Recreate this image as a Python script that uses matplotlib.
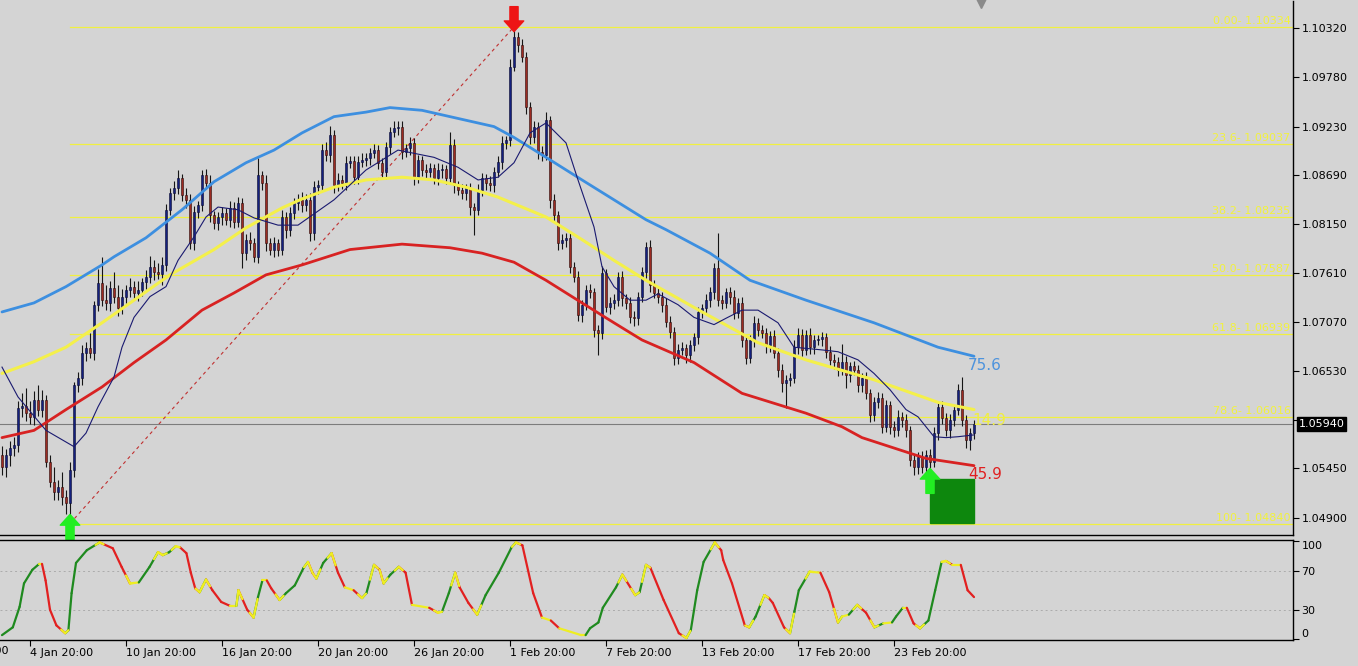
import numpy as np
import matplotlib
matplotlib.use("Agg")
import matplotlib.pyplot as plt
from matplotlib.patches import Rectangle
from matplotlib.transforms import blended_transform_factory

plt.rcParams['font.family'] = ['DejaVu Sans']

# ---- price data (EURUSD, one bar per 4 px) ----
first_open = 1.0560
closes = [
    1.0546, 1.0560, 1.0568, 1.0571, 1.0612, 1.0614, 1.0606, 1.0602, 1.0621, 1.0610,
    1.0621, 1.0552, 1.0530, 1.0519, 1.0524, 1.0513, 1.0507, 1.0543, 1.0637, 1.0645,
    1.0673, 1.0678, 1.0673, 1.0726, 1.0750, 1.0731, 1.0728, 1.0745, 1.0735, 1.0722,
    1.0735, 1.0742, 1.0746, 1.0739, 1.0742, 1.0751, 1.0757, 1.0768, 1.0762, 1.0760,
    1.0770, 1.0831, 1.0850, 1.0855, 1.0866, 1.0847, 1.0842, 1.0794, 1.0829, 1.0836,
    1.0869, 1.0861, 1.0825, 1.0816, 1.0823, 1.0827, 1.0820, 1.0833, 1.0818, 1.0839,
    1.0783, 1.0798, 1.0794, 1.0779, 1.0869, 1.0861, 1.0794, 1.0787, 1.0794, 1.0787,
    1.0823, 1.0809, 1.0827, 1.0839, 1.0842, 1.0836, 1.0842, 1.0805, 1.0856, 1.0858,
    1.0897, 1.0892, 1.0914, 1.0858, 1.0864, 1.0861, 1.0883, 1.0885, 1.0867, 1.0884,
    1.0886, 1.0888, 1.0894, 1.0897, 1.0883, 1.0873, 1.0900, 1.0917, 1.0921, 1.0923,
    1.0895, 1.0899, 1.0905, 1.0867, 1.0886, 1.0875, 1.0873, 1.0877, 1.0866, 1.0875,
    1.0876, 1.0866, 1.0903, 1.0858, 1.0853, 1.0850, 1.0855, 1.0834, 1.0831, 1.0853,
    1.0866, 1.0861, 1.0858, 1.0873, 1.0884, 1.0905, 1.0908, 1.0989, 1.1022, 1.1013,
    1.1000, 1.0945, 1.0911, 1.0923, 1.0895, 1.0892, 1.0930, 1.0842, 1.0825, 1.0794,
    1.0798, 1.0800, 1.0768, 1.0757, 1.0715, 1.0726, 1.0742, 1.0740, 1.0698, 1.0695,
    1.0761, 1.0724, 1.0728, 1.0731, 1.0757, 1.0733, 1.0728, 1.0712, 1.0711, 1.0735,
    1.0762, 1.0790, 1.0748, 1.0739, 1.0735, 1.0726, 1.0707, 1.0696, 1.0667, 1.0676,
    1.0678, 1.0670, 1.0681, 1.0690, 1.0718, 1.0722, 1.0731, 1.0740, 1.0767, 1.0731,
    1.0728, 1.0740, 1.0735, 1.0717, 1.0728, 1.0687, 1.0667, 1.0687, 1.0706, 1.0698,
    1.0695, 1.0681, 1.0691, 1.0673, 1.0654, 1.0639, 1.0643, 1.0645, 1.0679, 1.0693,
    1.0676, 1.0693, 1.0679, 1.0687, 1.0688, 1.0690, 1.0674, 1.0665, 1.0663, 1.0654,
    1.0663, 1.0648, 1.0658, 1.0654, 1.0637, 1.0645, 1.0628, 1.0604, 1.0618, 1.0623,
    1.0591, 1.0615, 1.0591, 1.0587, 1.0602, 1.0599, 1.0587, 1.0554, 1.0546, 1.0558,
    1.0546, 1.0560, 1.0552, 1.0584, 1.0613, 1.0601, 1.0587, 1.0599, 1.0610, 1.0632,
    1.0599, 1.0576, 1.0584, 1.0594,
]
# wick sizes in pips above / below the body
wick_up = [
    10, 6, 7, 9, 8, 14, 20, 13, 10, 16, 11, 5, 8, 17, 8, 17, 8, 9, 3, 7,
    8, 7, 17, 4, 15, 29, 17, 7, 17, 13, 8, 6, 9, 6, 10, 5, 7, 12, 8, 10,
    9, 6, 5, 8, 9, 5, 8, 6, 6, 5, 6, 7, 9, 5, 6, 7, 6, 8, 7, 6,
    5, 6, 8, 6, 19, 5, 9, 6, 7, 5, 8, 6, 7, 5, 6, 9, 6, 8, 7, 6,
    7, 9, 10, 5, 8, 6, 7, 6, 5, 6, 8, 6, 5, 7, 6, 5, 6, 5, 8, 6,
    6, 5, 7, 5, 6, 5, 7, 6, 5, 8, 6, 5, 14, 6, 5, 7, 5, 6, 5, 6,
    6, 5, 7, 5, 6, 8, 5, 9, 11, 6, 7, 5, 5, 6, 5, 6, 9, 5, 6, 5,
    6, 5, 7, 5, 6, 5, 6, 7, 5, 6, 8, 5, 6, 7, 5, 6, 5, 6, 7, 5,
    6, 5, 8, 5, 6, 5, 7, 6, 5, 6, 7, 5, 6, 5, 6, 5, 7, 6, 5, 38,
    6, 5, 6, 7, 5, 6, 5, 6, 7, 5, 6, 5, 6, 7, 5, 6, 5, 6, 8, 7,
    6, 5, 7, 6, 5, 6, 5, 6, 7, 5, 19, 6, 5, 6, 5, 6, 7, 5, 6, 7,
    5, 6, 5, 6, 7, 5, 6, 5, 6, 5, 6, 5, 6, 7, 5, 6, 5, 6, 5, 6,
    14, 5, 6, 5,
]
wick_dn = [
    8, 10, 12, 9, 8, 10, 9, 8, 9, 7, 8, 5, 6, 9, 9, 8, 12, 23, 8, 7,
    8, 9, 6, 8, 7, 6, 8, 9, 7, 9, 6, 7, 8, 7, 9, 6, 8, 7, 9, 6,
    12, 7, 6, 8, 7, 6, 9, 6, 8, 7, 6, 7, 8, 6, 7, 9, 6, 8, 7, 6,
    16, 7, 8, 6, 7, 8, 9, 6, 8, 7, 6, 9, 7, 6, 8, 7, 6, 9, 7, 8,
    6, 7, 8, 9, 6, 7, 8, 6, 7, 8, 6, 7, 8, 6, 7, 6, 8, 7, 6, 7,
    8, 6, 7, 9, 6, 7, 8, 6, 7, 8, 9, 6, 7, 8, 6, 7, 8, 9, 28, 6,
    7, 8, 6, 7, 6, 8, 7, 6, 5, 7, 6, 8, 7, 6, 8, 7, 6, 9, 8, 7,
    6, 8, 7, 6, 7, 8, 6, 7, 8, 25, 7, 6, 8, 7, 6, 8, 7, 6, 8, 7,
    6, 7, 8, 6, 7, 8, 6, 7, 8, 7, 6, 8, 7, 6, 8, 7, 6, 7, 8, 6,
    7, 6, 8, 7, 6, 8, 7, 6, 8, 7, 6, 8, 7, 6, 8, 9, 27, 7, 6, 8,
    7, 6, 8, 7, 6, 8, 7, 6, 8, 7, 6, 14, 7, 6, 8, 7, 6, 8, 7, 6,
    7, 6, 8, 7, 6, 8, 7, 6, 8, 7, 6, 8, 7, 6, 8, 7, 6, 8, 7, 6,
    7, 8, 11, 6,
]

# moving averages (bar index, price)
ma_blue_bar = [0, 8, 16, 25, 28, 36, 45, 53, 61, 68, 75, 83, 91, 97, 105, 110, 116, 123,
               128, 136, 145, 153, 161, 166, 177, 187, 201, 218, 234, 243]
ma_blue = [1.0718, 1.0728, 1.0746, 1.0770, 1.0779, 1.0800, 1.0831, 1.0862, 1.0883, 1.0897,
           1.0916, 1.0934, 1.0939, 1.0944, 1.0941, 1.0936, 1.0930, 1.0923, 1.0911, 1.0889,
           1.0864, 1.0842, 1.0820, 1.0809, 1.0783, 1.0753, 1.0731, 1.0706, 1.0679, 1.0669]
ma_yellow_bar = [0, 8, 16, 25, 33, 42, 53, 61, 70, 75, 83, 91, 100, 108, 116, 124, 136,
                 145, 153, 161, 173, 189, 201, 218, 234, 243]
ma_yellow = [1.0650, 1.0663, 1.0679, 1.0706, 1.0731, 1.0759, 1.0787, 1.0811, 1.0833, 1.0843,
             1.0856, 1.0864, 1.0867, 1.0864, 1.0856, 1.0845, 1.0823, 1.0798, 1.0775, 1.0753,
             1.0723, 1.0684, 1.0665, 1.0643, 1.0618, 1.0610]
ma_red_bar = [0, 8, 16, 25, 33, 41, 50, 58, 66, 75, 87, 100, 112, 120, 128, 136, 145, 153,
              160, 173, 185, 201, 210, 215, 231, 243]
ma_red = [1.0579, 1.0587, 1.0610, 1.0635, 1.0662, 1.0687, 1.0720, 1.0739, 1.0759, 1.0770,
          1.0787, 1.0793, 1.0789, 1.0783, 1.0773, 1.0753, 1.0728, 1.0706, 1.0687, 1.0662,
          1.0628, 1.0606, 1.0591, 1.0579, 1.0556, 1.0548]
ma_fast_bar = [0, 4, 11, 18, 21, 24, 28, 30, 33, 37, 41, 44, 48, 51, 54, 59, 63, 69, 74,
               83, 91, 99, 108, 114, 119, 124, 128, 132, 136, 141, 144, 148, 150, 153, 157,
               161, 164, 169, 173, 178, 181, 185, 189, 194, 198, 205, 209, 214, 218, 222,
               226, 229, 233, 236, 239, 243]
ma_fast = [1.0657, 1.0624, 1.0587, 1.0569, 1.0584, 1.0613, 1.0646, 1.0679, 1.0712, 1.0735,
           1.0746, 1.0775, 1.0801, 1.0823, 1.0834, 1.0831, 1.0822, 1.0814, 1.0814, 1.0842,
           1.0875, 1.0897, 1.0889, 1.0878, 1.0864, 1.0867, 1.0883, 1.0916, 1.0927, 1.0905,
           1.0864, 1.0812, 1.0768, 1.0746, 1.0731, 1.0731, 1.0738, 1.0726, 1.0712, 1.0704,
           1.0711, 1.0720, 1.0720, 1.0706, 1.0679, 1.0676, 1.0674, 1.0665, 1.0650, 1.0632,
           1.0610, 1.0602, 1.0580, 1.0579, 1.0580, 1.0582]

fib_levels = ['0.00', '23.6', '38.2', '50.0', '61.8', '78.6', '100']
fib_prices = [1.10334, 1.09037, 1.08235, 1.07587, 1.06939, 1.06016, 1.04840]
fib_start_bar = 17
fib_end_bar = 128

price_ticks = [1.10320, 1.09780, 1.09230, 1.08690, 1.08150, 1.07610, 1.07070,
               1.06530, 1.05990, 1.05450, 1.04900]
last_price = 1.05940

# oscillator (bar, value)
osc_bar = [0, 2.7, 4.4, 5.5, 7.6, 9.3, 10, 10.9, 12, 13.6, 15.8, 16.6, 17.4, 18.5, 21.2,
           24.4, 27.7, 29.9, 32, 34.2, 36.9, 39, 40.2, 41.8, 43.4, 44.5, 46.1, 47.2, 48.3,
           49.4, 51, 52.6, 54.8, 57, 58.6, 59.1, 61.3, 62.9, 64, 65.1, 66.2, 67.3, 69.4, 71,
           73.2, 75.4, 76.5, 77.6, 78.6, 80.3, 82.4, 84, 85.7, 87.9, 90, 91.1, 93, 94.4,
           95.4, 97.1, 99.2, 100.9, 102.5, 106.8, 109, 110, 111.7, 113.3, 114.4, 116.6,
           118.8, 120.9, 124.2, 127.4, 128.5, 130.1, 132.8, 135, 137.2, 139.3, 144.8, 145.9,
           147, 149.1, 150.2, 153.5, 155.1, 158.3, 159.4, 161, 162.1, 165.4, 169.2, 171.1,
           172.2, 173.8, 175.4, 178.2, 179.8, 180.3, 182.5, 185.7, 186.8, 188.4, 190.6,
           191.7, 192.7, 195.5, 197, 198.1, 199.2, 201.9, 204.6, 206.8, 209, 210, 211.7,
           213.8, 216, 218.1, 220.3, 222.5, 223.5, 225.2, 226.2, 227.9, 229.5, 231.6, 233.3,
           234.9, 236, 237.6, 239.7, 241.4, 243]
osc_val = [4, 12, 33, 57, 71, 77, 77, 60, 30, 14, 6, 9, 47, 78, 91,
           99, 93, 74, 57, 58, 74, 89, 86, 89, 95, 94, 88, 68, 52,
           48, 61, 50, 38, 34, 34, 50, 30, 22, 43, 60, 60, 52, 40, 47,
           55, 73, 79, 68, 62, 78, 88, 68, 53, 50, 42, 47, 76, 71,
           57, 66, 74, 68, 35, 32, 27, 28, 47, 68, 53, 37,
           25, 45, 68, 94, 99, 96, 47, 22, 19, 11, 4, 4,
           11, 17, 32, 53, 66, 45, 48, 76, 73, 40, 6, 1,
           9, 50, 79, 99, 91, 81, 57, 14, 12, 23, 45,
           42, 37, 12, 6, 28, 50, 69, 68, 48, 17, 23, 25,
           35, 27, 12, 16, 17, 23, 32, 32, 16, 11, 19, 50,
           79, 80, 76, 76, 50, 43]

date_bars = [7, 31, 55, 79, 103, 127, 151, 175, 199, 223]
date_labels = ['4 Jan 20:00', '10 Jan 20:00', '16 Jan 20:00', '20 Jan 20:00',
               '26 Jan 20:00', '1 Feb 20:00', '7 Feb 20:00', '13 Feb 20:00',
               '17 Feb 20:00', '23 Feb 20:00']

assert len(closes) == len(wick_up) == len(wick_dn)
assert len(osc_bar) == len(osc_val)

pip = 0.0001
bg = '#d4d4d4'
W, H = 1358, 666
fig = plt.figure(figsize=(W / 100, H / 100), dpi=100, facecolor=bg)

ax = fig.add_axes([0, 1 - 535 / H, 1293 / W, 534 / H], facecolor=bg)
ax2 = fig.add_axes([0, 1 - 640 / H, 1293 / W, 100 / H], facecolor=bg)

# ---- candles ----
x = np.arange(len(closes))
c = np.array(closes)
o = np.array([first_open] + closes[:-1])
hi = np.maximum(o, c) + np.array(wick_up) * pip
lo = np.minimum(o, c) - np.array(wick_dn) * pip
bull = c >= o
ax.vlines(x, lo, hi, color='#151515', lw=0.8, zorder=4)
bh = np.maximum(np.abs(c - o), 0.00007)
bb = np.minimum(o, c)
ax.bar(x[bull], bh[bull], bottom=bb[bull], width=0.72, color='#14207e',
       edgecolor='#0a0a30', lw=0.4, zorder=5)
ax.bar(x[~bull], bh[~bull], bottom=bb[~bull], width=0.72, color='#9c2b22',
       edgecolor='#2a0a0a', lw=0.4, zorder=5)

# ---- moving averages ----
ax.plot(ma_blue_bar, ma_blue, color='#3d8fe0', lw=2.0, zorder=6,
        solid_capstyle='round', solid_joinstyle='round')
ax.plot(ma_yellow_bar, ma_yellow, color='#f4f04a', lw=2.2, zorder=6,
        solid_capstyle='round', solid_joinstyle='round')
ax.plot(ma_red_bar, ma_red, color='#d82222', lw=2.0, zorder=6,
        solid_capstyle='round', solid_joinstyle='round')
ax.plot(ma_fast_bar, ma_fast, color='#1a1a70', lw=0.8, zorder=7)

# ---- fibonacci ----
xmax = 322.75
for lev, p in zip(fib_levels, fib_prices):
    ax.plot([fib_start_bar, xmax], [p, p], color='#f0f040', lw=0.9, zorder=2)
    ax.text(xmax - 0.6, p + 0.00008, f'{lev}- {p:.5f}', color='#f2f23c', fontsize=8,
            ha='right', va='bottom', zorder=3)
ax.plot([fib_start_bar, fib_end_bar], [fib_prices[-1], fib_prices[0]], color='#c03030',
        lw=0.8, ls=(0, (3, 3)), zorder=3)

ax.axhline(last_price, color='#7c7c7c', lw=0.8, zorder=3)

# signal arrows
def arrow(bar, tip, up, color):
    ax.annotate('', xy=(bar, tip), xytext=(0, -18 if up else 18), textcoords='offset points',
                arrowprops=dict(arrowstyle='simple,head_length=0.55,head_width=1.0,tail_width=0.42',
                                mutation_scale=14, color=color, shrinkA=0, shrinkB=0),
                zorder=9, annotation_clip=False)

arrow(128, hi[128] - 0.0005, False, '#ee1515')
arrow(17, lo[17] + 0.0010, True, '#22ee22')
arrow(232, 1.0545, True, '#22ee22')

ax.add_patch(Rectangle((231.9, 1.0485), 11.0, 0.0048, color='#0d870d', zorder=8))

ax.text(241.5, 1.0659, '75.6', color='#4d93dd', fontsize=11, va='center', ha='left', zorder=9)
ax.text(242.5, 1.0598, '14.9', color='#f0ee40', fontsize=11, va='center', ha='left', zorder=9)
ax.text(241.5, 1.0538, '45.9', color='#e02020', fontsize=11, va='center', ha='left', zorder=9)

ax.set_xlim(-0.5, xmax)
ax.set_ylim(1.04713, 1.10619)
ax.set_xticks([])
ax.yaxis.tick_right()
ax.set_yticks(price_ticks)
# the 1.05990 label sits under the current price tag
ax.set_yticklabels(['' if abs(p - last_price) < 0.001 else f'{p:.5f}' for p in price_ticks])
ax.tick_params(axis='y', length=4, width=0.8, pad=2, labelsize=8, colors='black')
for s in ['top', 'left']:
    ax.spines[s].set_visible(False)
for s in ['right', 'bottom']:
    ax.spines[s].set_color('black')
    ax.spines[s].set_linewidth(1)

ax.annotate(f'{last_price:.5f}', xy=(1.0, last_price),
            xycoords=blended_transform_factory(ax.transAxes, ax.transData),
            xytext=(4, 0), textcoords='offset points', va='center', ha='left',
            fontsize=8, color='white', zorder=10, annotation_clip=False,
            bbox=dict(boxstyle='square,pad=0.15', fc='black', ec='black'))

# ---- oscillator ----
green, red, yellow = '#1f8a1f', '#e22020', '#eeee22'
ob = np.array(osc_bar, dtype=float)
ov = np.array(osc_val, dtype=float)
for i in range(len(ob) - 1):
    slope = (ov[i + 1] - ov[i]) / (ob[i + 1] - ob[i])
    col = yellow if abs(slope) < 1.5 else (green if slope > 0 else red)
    ax2.plot(ob[i:i + 2], ov[i:i + 2], color=col, lw=1.6, solid_capstyle='round', zorder=3)
for i in range(1, len(ob) - 1):
    if (ov[i] - ov[i - 1]) * (ov[i + 1] - ov[i]) < 0:
        for j in (i - 1, i + 1):
            f = min(1.0, 1.0 / abs(ob[j] - ob[i]))
            ax2.plot([ob[i], ob[i] + f * (ob[j] - ob[i])], [ov[i], ov[i] + f * (ov[j] - ov[i])],
                     color=yellow, lw=1.6, solid_capstyle='round', zorder=4)
for lv in (70, 30):
    ax2.axhline(lv, color='#ababab', lw=0.7, ls=(0, (2, 3)), zorder=1)

ax2.set_xlim(-0.5, xmax)
ax2.set_ylim(-1, 101.5)
ax2.yaxis.tick_right()
ax2.set_yticks([100, 70, 30, 0])
ax2.set_yticklabels(['100', '70', '30', '0'])
ylabs = ax2.get_yticklabels()
ylabs[0].set_va('top')
ylabs[-1].set_va('bottom')
ax2.tick_params(axis='y', length=4, width=0.8, pad=2, labelsize=8, colors='black')
ax2.set_xticks(date_bars)
ax2.set_xticklabels(date_labels, ha='left')
ax2.tick_params(axis='x', length=4, width=0.8, pad=2, labelsize=8, colors='black')
ax2.spines['left'].set_visible(False)
for s in ['right', 'bottom', 'top']:
    ax2.spines[s].set_color('black')
    ax2.spines[s].set_linewidth(1)

# partially visible first date label and the chart shift marker
fig.text(9 / W, 1 - 651 / H, '29 Dec 20:00', fontsize=8, ha='right', va='center')
fig.lines.append(plt.Line2D([981 / W], [1 - 3 / H], transform=fig.transFigure, marker='v',
                            markersize=7, color='#8a8a8a', ls='none'))

fig.savefig('out.png', dpi=100, facecolor=bg)
